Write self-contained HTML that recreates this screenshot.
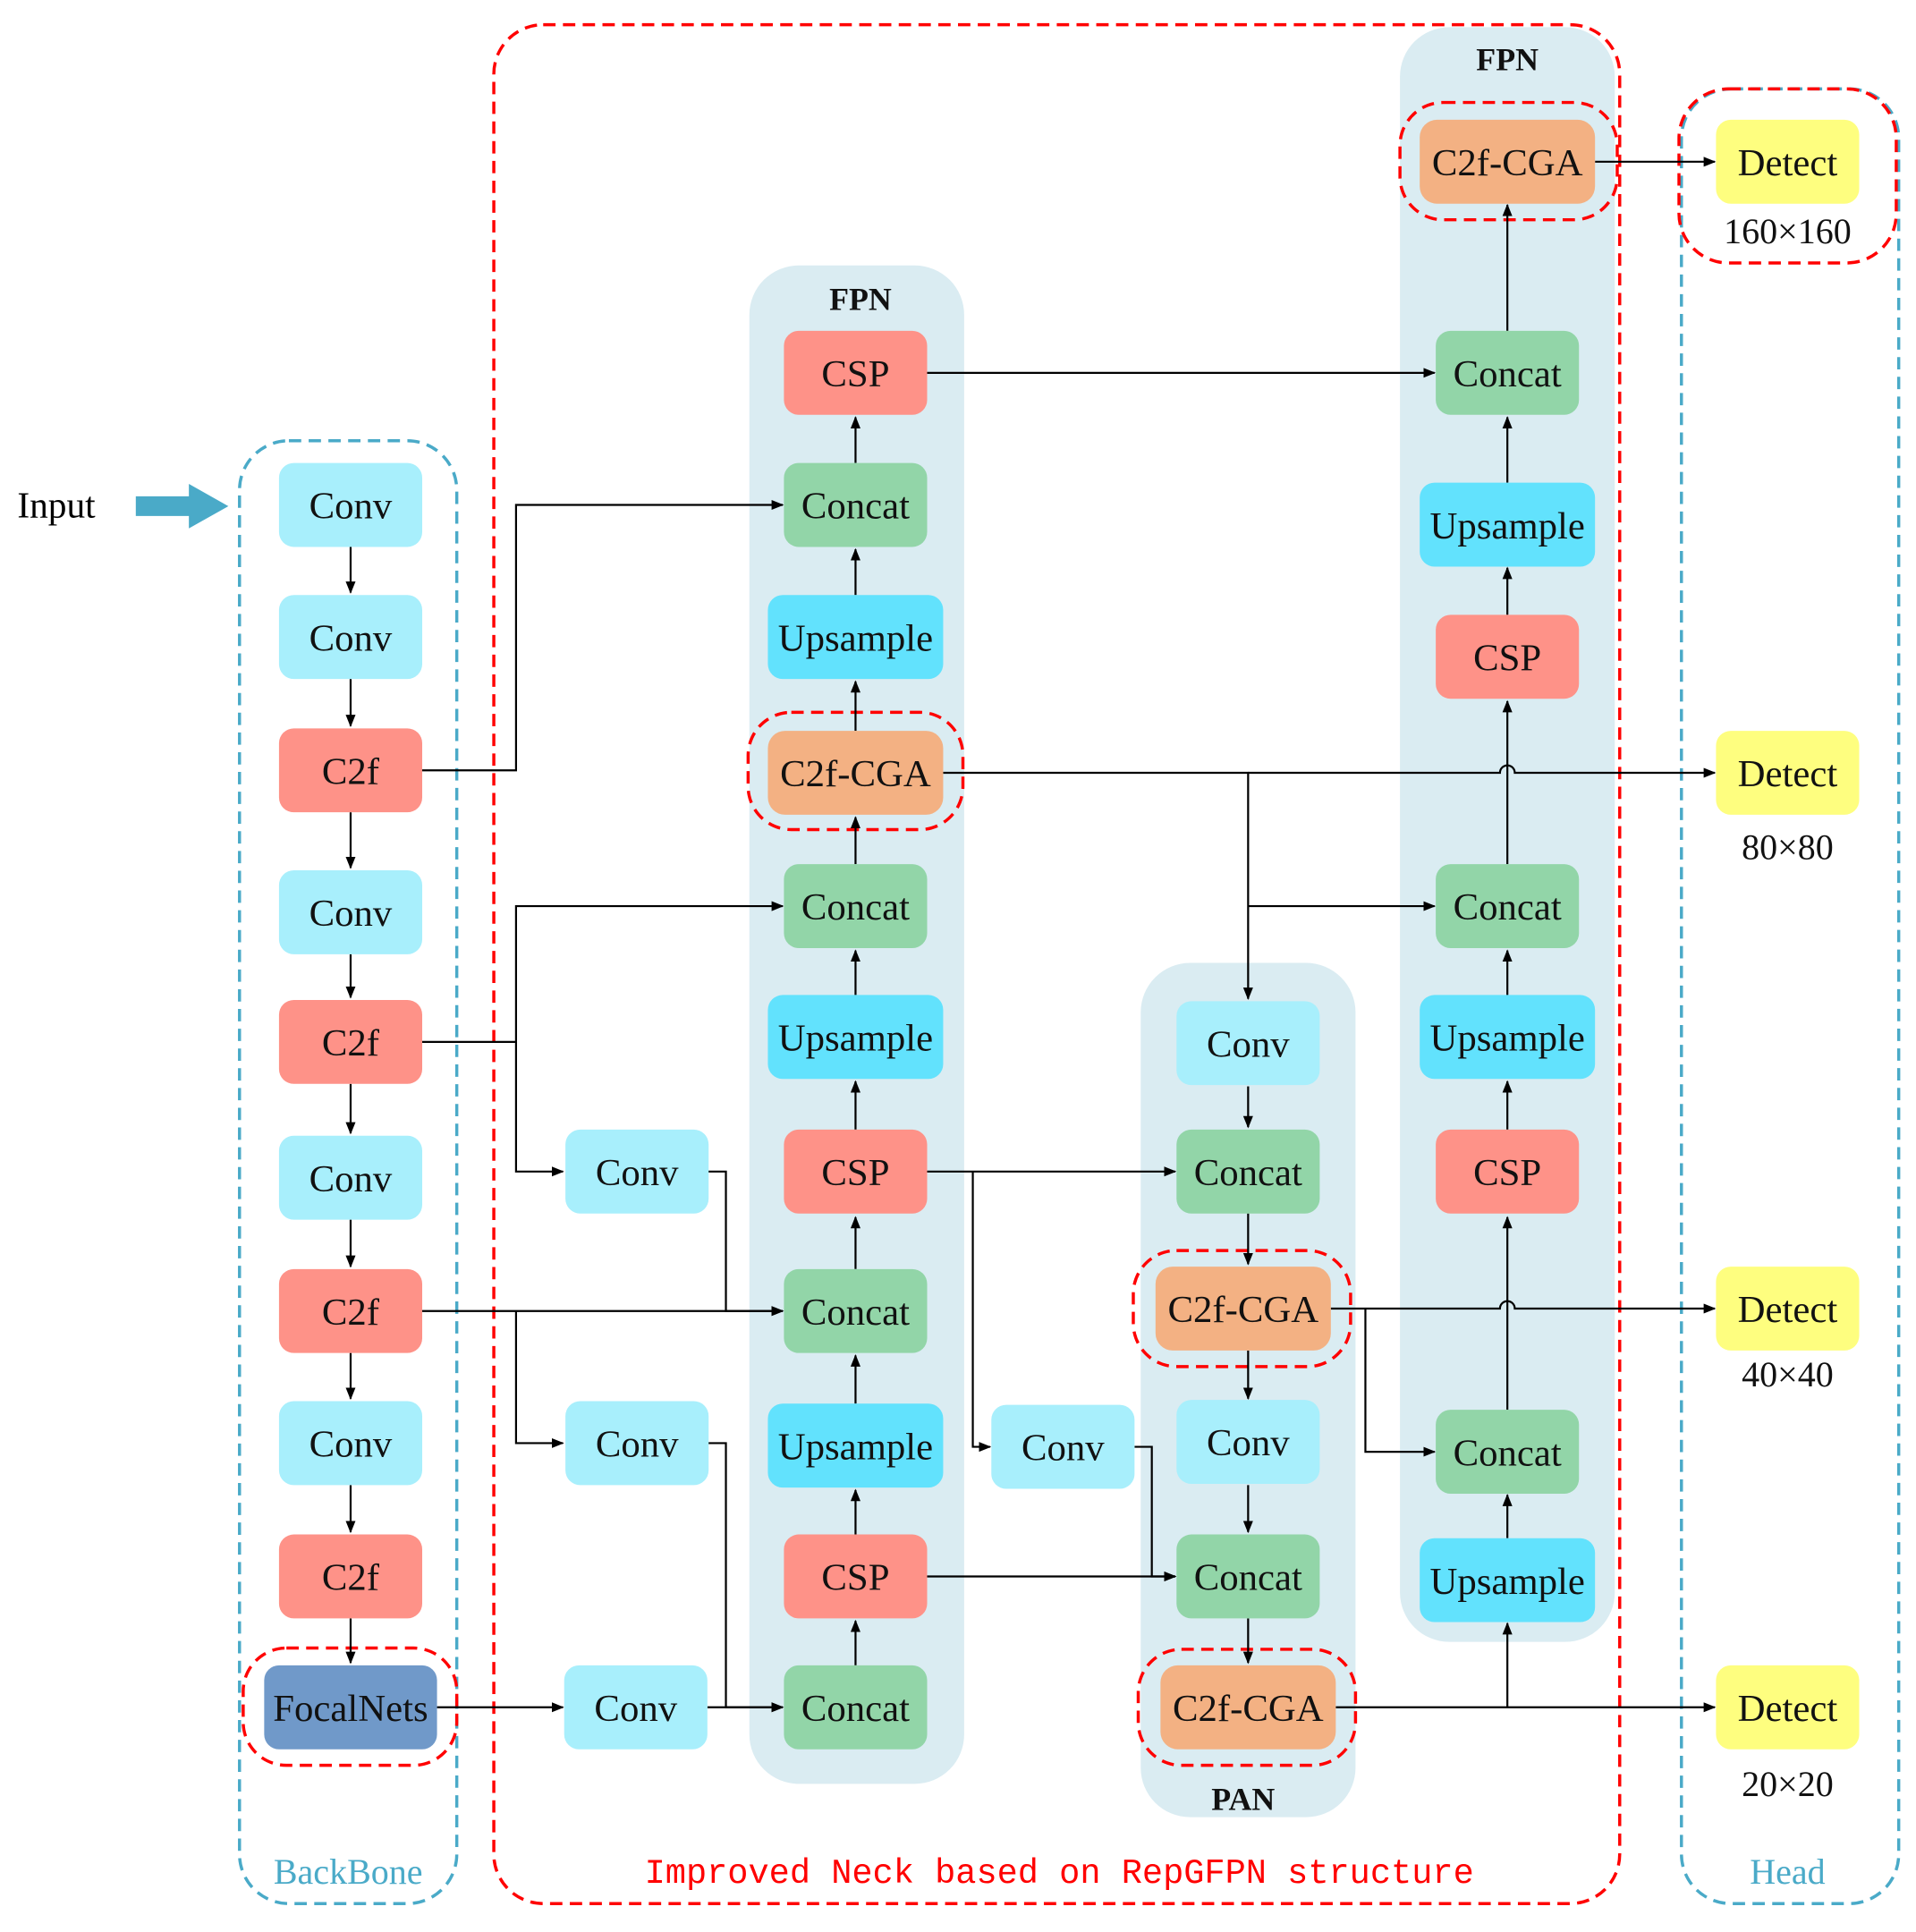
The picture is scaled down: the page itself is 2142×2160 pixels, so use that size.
<!DOCTYPE html>
<html><head><meta charset="utf-8"><style>html,body{margin:0;padding:0;background:#fff}svg{display:block}</style></head>
<body>
<svg width="2142" height="2160" viewBox="0 0 1552 1565" xmlns="http://www.w3.org/2000/svg" font-family="'Liberation Serif',serif">
<defs><marker id="a" markerWidth="10" markerHeight="10" refX="9" refY="5" orient="auto" markerUnits="userSpaceOnUse"><path d="M0,1 L10,5 L0,9 Z" fill="#000"/></marker></defs>
<!-- panels -->
<rect x="607" y="215" width="174" height="1230" rx="40" fill="#daecf2"/>
<rect x="924" y="780" width="174" height="692" rx="40" fill="#daecf2"/>
<rect x="1134" y="22" width="174" height="1308" rx="40" fill="#daecf2"/>
<!-- big dashed boxes -->
<rect x="194" y="357" width="176" height="1185" rx="40" fill="none" stroke="#4aaac8" stroke-width="2.5" stroke-dasharray="10,6"/>
<rect x="1362" y="72" width="176" height="1470" rx="40" fill="none" stroke="#4aaac8" stroke-width="2.5" stroke-dasharray="10,6"/>
<rect x="400" y="20" width="912" height="1522" rx="40" fill="none" stroke="#f00" stroke-width="2.5" stroke-dasharray="10,6"/>
<g fill="none" stroke="#f00" stroke-width="2.5" stroke-dasharray="10,6">
<rect x="197" y="1335" width="173" height="95" rx="35"/>
<rect x="606" y="577" width="174" height="95" rx="35"/>
<rect x="1134" y="83" width="176" height="95" rx="35"/>
<rect x="1360" y="72" width="176" height="141" rx="40"/>
<rect x="918" y="1013" width="176" height="94" rx="35"/>
<rect x="922" y="1336" width="176" height="94" rx="35"/>
</g>
<!-- connectors -->
<g stroke="#000" stroke-width="1.6" fill="none" marker-end="url(#a)">
<path d="M284,443V480"/><path d="M284,550V588"/><path d="M284,658V703"/><path d="M284,773V808"/><path d="M284,878V918"/><path d="M284,988V1026"/><path d="M284,1096V1133"/><path d="M284,1203V1241"/><path d="M284,1311V1347"/>
<path d="M342,624H418V409H634"/>
<path d="M342,844H418V734H634"/>
<path d="M418,844V949H456"/>
<path d="M342,1062H634"/>
<path d="M418,1062V1169H456"/>
<path d="M354,1383H456"/>
<path d="M573,1383H634"/>
<path d="M573,949H588V1062H634"/>
<path d="M573,1169H588V1383H634"/>
<path d="M693,1349V1313"/><path d="M693,1243V1207"/><path d="M693,1137V1098"/><path d="M693,1028V986"/><path d="M693,915V876"/><path d="M693,806V770"/><path d="M693,700V662"/><path d="M693,592V552"/><path d="M693,482V445"/><path d="M693,375V338"/>
<path d="M751,302H1162"/>
<path d="M764,626H1011V809"/>
<path d="M1011,626H1215A6,6 0 0 1 1227,626H1389"/>
<path d="M1011,734H1162"/>
<path d="M751,949H952"/>
<path d="M788,949V1172H802"/>
<path d="M919,1172H933V1277H952"/>
<path d="M751,1277H952"/>
<path d="M1011,880V913"/><path d="M1011,983V1024"/><path d="M1011,1094V1133"/><path d="M1011,1203V1241"/><path d="M1011,1311V1347"/>
<path d="M1078,1060H1215A6,6 0 0 1 1227,1060H1389"/>
<path d="M1106,1060V1176H1162"/>
<path d="M1082,1383H1389"/>
<path d="M1221,1383V1315"/>
<path d="M1221,1246V1211"/><path d="M1221,1142V986"/><path d="M1221,915V876"/><path d="M1221,806V770"/><path d="M1221,700V568"/><path d="M1221,498V460"/><path d="M1221,391V338"/><path d="M1221,268V166"/>
<path d="M1292,131H1389"/>
</g>
<!-- input arrow -->
<path d="M110,402H153V392L185,410L153,428V418H110Z" fill="#4aaac8"/>
<text x="14" y="419" font-size="30">Input</text>
<!-- nodes -->
<g font-size="31" text-anchor="middle">
<g fill="#a8effc">
<rect x="226" y="375" width="116" height="68" rx="12"/><rect x="226" y="482" width="116" height="68" rx="12"/><rect x="226" y="705" width="116" height="68" rx="12"/><rect x="226" y="920" width="116" height="68" rx="12"/><rect x="226" y="1135" width="116" height="68" rx="12"/>
<rect x="458" y="915" width="116" height="68" rx="12"/><rect x="458" y="1135" width="116" height="68" rx="12"/><rect x="457" y="1349" width="116" height="68" rx="12"/>
<rect x="803" y="1138" width="116" height="68" rx="12"/><rect x="953" y="811" width="116" height="68" rx="12"/><rect x="953" y="1134" width="116" height="68" rx="12"/>
</g>
<g fill="#fe9288">
<rect x="226" y="590" width="116" height="68" rx="12"/><rect x="226" y="810" width="116" height="68" rx="12"/><rect x="226" y="1028" width="116" height="68" rx="12"/><rect x="226" y="1243" width="116" height="68" rx="12"/>
<rect x="635" y="268" width="116" height="68" rx="12"/><rect x="635" y="915" width="116" height="68" rx="12"/><rect x="635" y="1243" width="116" height="68" rx="12"/>
<rect x="1163" y="498" width="116" height="68" rx="12"/><rect x="1163" y="915" width="116" height="68" rx="12"/>
</g>
<g fill="#92d5a8">
<rect x="635" y="375" width="116" height="68" rx="12"/><rect x="635" y="700" width="116" height="68" rx="12"/><rect x="635" y="1028" width="116" height="68" rx="12"/><rect x="635" y="1349" width="116" height="68" rx="12"/>
<rect x="953" y="915" width="116" height="68" rx="12"/><rect x="953" y="1243" width="116" height="68" rx="12"/>
<rect x="1163" y="268" width="116" height="68" rx="12"/><rect x="1163" y="700" width="116" height="68" rx="12"/><rect x="1163" y="1142" width="116" height="68" rx="12"/>
</g>
<g fill="#62e2fd">
<rect x="622" y="482" width="142" height="68" rx="12"/><rect x="622" y="806" width="142" height="68" rx="12"/><rect x="622" y="1137" width="142" height="68" rx="12"/>
<rect x="1150" y="391" width="142" height="68" rx="12"/><rect x="1150" y="806" width="142" height="68" rx="12"/><rect x="1150" y="1246" width="142" height="68" rx="12"/>
</g>
<g fill="#f3b183">
<rect x="622" y="592" width="142" height="68" rx="14"/><rect x="1150" y="97" width="142" height="68" rx="14"/><rect x="936" y="1026" width="142" height="68" rx="14"/><rect x="940" y="1349" width="142" height="68" rx="14"/>
</g>
<rect x="214" y="1349" width="140" height="68" rx="12" fill="#7099c9"/>
<g fill="#fefe7f">
<rect x="1390" y="97" width="116" height="68" rx="12"/><rect x="1390" y="592" width="116" height="68" rx="12"/><rect x="1390" y="1026" width="116" height="68" rx="12"/><rect x="1390" y="1349" width="116" height="68" rx="12"/>
</g>
<g fill="#111">
<text x="284" y="420">Conv</text><text x="284" y="527">Conv</text><text x="284" y="635">C2f</text><text x="284" y="750">Conv</text><text x="284" y="855">C2f</text><text x="284" y="965">Conv</text><text x="284" y="1073">C2f</text><text x="284" y="1180">Conv</text><text x="284" y="1288">C2f</text><text x="284" y="1394">FocalNets</text>
<text x="516" y="960">Conv</text><text x="516" y="1180">Conv</text><text x="515" y="1394">Conv</text>
<text x="693" y="313">CSP</text><text x="693" y="420">Concat</text><text x="693" y="527">Upsample</text><text x="693" y="637">C2f-CGA</text><text x="693" y="745">Concat</text><text x="693" y="851">Upsample</text><text x="693" y="960">CSP</text><text x="693" y="1073">Concat</text><text x="693" y="1182">Upsample</text><text x="693" y="1288">CSP</text><text x="693" y="1394">Concat</text>
<text x="861" y="1183">Conv</text>
<text x="1011" y="856">Conv</text><text x="1011" y="960">Concat</text><text x="1007" y="1071">C2f-CGA</text><text x="1011" y="1179">Conv</text><text x="1011" y="1288">Concat</text><text x="1011" y="1394">C2f-CGA</text>
<text x="1221" y="142">C2f-CGA</text><text x="1221" y="313">Concat</text><text x="1221" y="436">Upsample</text><text x="1221" y="543">CSP</text><text x="1221" y="745">Concat</text><text x="1221" y="851">Upsample</text><text x="1221" y="960">CSP</text><text x="1221" y="1187">Concat</text><text x="1221" y="1291">Upsample</text>
<text x="1448" y="142">Detect</text><text x="1448" y="637">Detect</text><text x="1448" y="1071">Detect</text><text x="1448" y="1394">Detect</text>
<text x="1448" y="197" font-size="29">160×160</text><text x="1448" y="696" font-size="29">80×80</text><text x="1448" y="1123" font-size="29">40×40</text><text x="1448" y="1455" font-size="29">20×20</text>
<text x="697" y="251" font-size="26" font-weight="bold">FPN</text><text x="1221" y="57" font-size="26" font-weight="bold">FPN</text><text x="1007" y="1466" font-size="26" font-weight="bold">PAN</text>
</g>
<text x="282" y="1526" font-size="29" fill="#4aaac8">BackBone</text>
<text x="1448" y="1526" font-size="29" fill="#4aaac8">Head</text>
</g>
<text x="858" y="1525" font-size="28" text-anchor="middle" fill="#f00" font-family="'Liberation Mono',monospace">Improved Neck based on RepGFPN structure</text>
</svg>
</body></html>
